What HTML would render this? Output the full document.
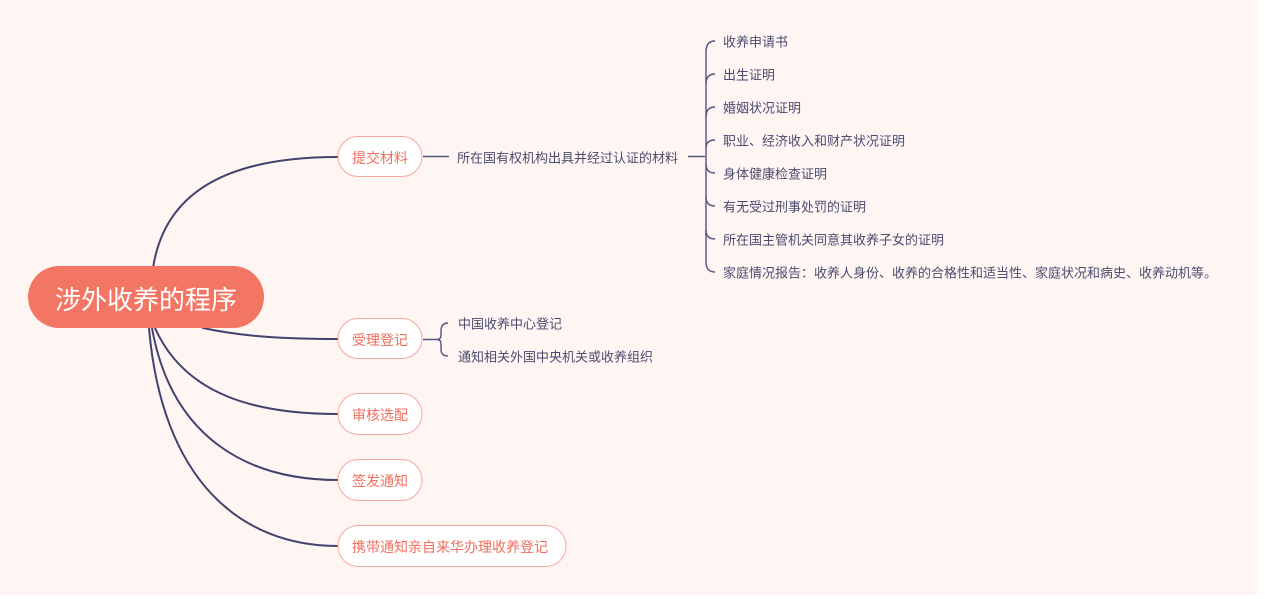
<!DOCTYPE html>
<html><head><meta charset="utf-8"><style>
html,body{margin:0;padding:0;background:#fff;}
body{width:1265px;height:599px;overflow:hidden;position:relative;}
svg{position:absolute;left:0;top:0;}
text{font-family:"Liberation Sans","Noto Sans CJK SC",sans-serif;}
</style></head><body>
<svg width="1265" height="599" viewBox="0 0 1265 599">
<rect x="0" y="0" width="1257" height="595" fill="#fff6f4"/>
<g fill="none" stroke="#42426f" stroke-width="2" stroke-linecap="round">
<path d="M153,268 C165,190 230,157 338,157"/>
<path d="M203,328 C240,336 280,339 338,339"/>
<path d="M155,328 C185,395 255,414 338,414"/>
<path d="M152,328 C172,440 250,480 338,480"/>
<path d="M149,328 C162,480 240,546 338,546"/>
</g>
<g fill="none" stroke="#54547c" stroke-width="1.4">
<path d="M423,156.5 L449,156.5"/>
<path d="M688,156.5 L705,156.5"/>
<path d="M706,52 Q706,41 715,41"/>
<path d="M706,52 L706,262"/>
<path d="M706,262 Q706,272 715,272"/>
<path d="M706,84 Q706,74 715,74"/>
<path d="M706,117 Q706,107 715,107"/>
<path d="M706,148 Q706,140 715,140"/>
<path d="M706,164 Q706,173 715,173"/>
<path d="M706,197 Q706,206 715,206"/>
<path d="M706,230 Q706,239 715,239"/>
<path d="M423,339.5 L440,339.5"/>
<path d="M448,323 Q441,323 441,331 L441,335 Q441,339.5 437,339.5 Q441,339.5 441,344 L441,349 Q441,356 448,356"/>
</g>
<rect x="28" y="266" width="236" height="62" rx="31" fill="#f37563"/>
<text x="146" y="300" font-size="26" fill="#fff" text-anchor="middle" dominant-baseline="central">涉外收养的程序</text>
<g fill="#fff" stroke="#f6a89b" stroke-width="1">
<rect x="338" y="136.5" width="84" height="40" rx="20"/>
<rect x="338" y="318.5" width="84" height="40" rx="20"/>
<rect x="338" y="393.5" width="84" height="41" rx="20.5"/>
<rect x="338" y="459.5" width="84" height="41" rx="20.5"/>
<rect x="338" y="525.5" width="228" height="41" rx="20.5"/>
</g>
<g font-size="14" fill="#f26f5e" dominant-baseline="central">
<text x="352" y="158">提交材料</text>
<text x="352" y="340">受理登记</text>
<text x="352" y="415">审核选配</text>
<text x="352" y="481">签发通知</text>
<text x="352" y="547">携带通知亲自来华办理收养登记</text>
</g>
<g font-size="13" fill="#4b4b6e" dominant-baseline="central">
<text x="457" y="158">所在国有权机构出具并经过认证的材料</text>
<text x="723" y="42">收养申请书</text>
<text x="723" y="75">出生证明</text>
<text x="723" y="108">婚姻状况证明</text>
<text x="723" y="141">职业、经济收入和财产状况证明</text>
<text x="723" y="174">身体健康检查证明</text>
<text x="723" y="207">有无受过刑事处罚的证明</text>
<text x="723" y="240">所在国主管机关同意其收养子女的证明</text>
<text x="723" y="273">家庭情况报告：收养人身份、收养的合格性和适当性、家庭状况和病史、收养动机等。</text>
<text x="458" y="324">中国收养中心登记</text>
<text x="458" y="357">通知相关外国中央机关或收养组织</text>
</g>
</svg>
</body></html>
